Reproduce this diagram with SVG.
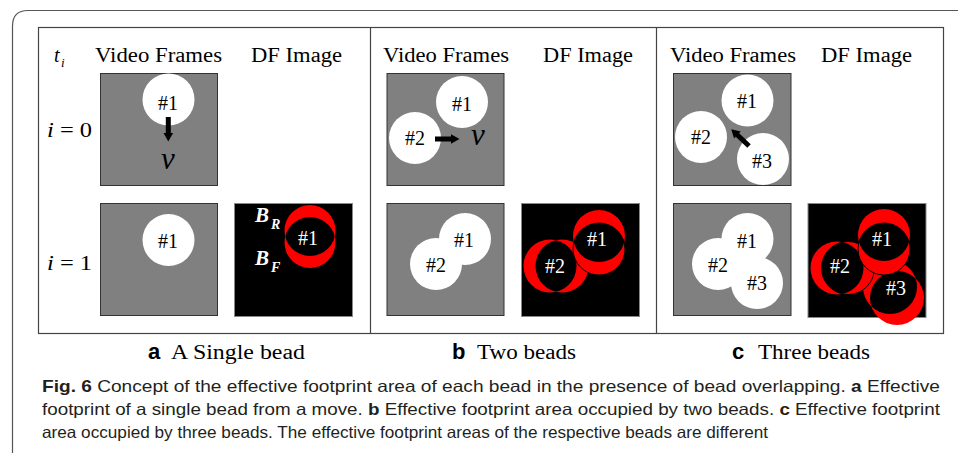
<svg xmlns="http://www.w3.org/2000/svg" width="958" height="453" viewBox="0 0 958 453">
<style>
.tm{font-family:"Liberation Serif","Times New Roman",serif;fill:#000;}
.hd{font-size:20px;}
.lb{font-size:20px;text-anchor:middle;}
.wl{fill:#fff;}
.it{font-style:italic;}
.sf{font-family:"Liberation Sans",Arial,sans-serif;}
.cap{font-size:16.5px;fill:#231f20;}
.gray{fill:#808080;stroke:#333;stroke-width:1;}
.blk{fill:#000;stroke:#888;stroke-width:1;}
.bead{fill:#fff;}
.red{fill:#ff0000;}
.lens{fill:#000;}
.out{fill:none;stroke:#000;stroke-width:1;}
.frame{fill:none;stroke:#555;stroke-width:1.2;}
</style>
<defs>
  <g id="arrow"><rect x="0" y="-2.5" width="17" height="5" fill="#000"/><polygon points="16,-4.8 24.5,0 16,4.8" fill="#000"/></g>
  <clipPath id="cA1"><circle cx="310" cy="230.5" r="25.5"/></clipPath>
  <clipPath id="cB1"><circle cx="599" cy="236" r="26"/></clipPath>
  <clipPath id="cB2"><circle cx="550" cy="266" r="26.5"/></clipPath>
  <clipPath id="cC1"><circle cx="884" cy="235" r="26"/></clipPath>
  <clipPath id="cC2"><circle cx="837" cy="268" r="26.5"/></clipPath>
  <clipPath id="cC3"><circle cx="890" cy="287" r="27"/></clipPath>
</defs>

<!-- outer card frame -->
<path class="frame" d="M12.5 453 V26 Q12.5 10.5 28 10.5 H958"/>

<!-- figure box -->
<g id="figure-box" fill="none" stroke="#444" stroke-width="1.2">
  <rect x="38.5" y="27.5" width="905" height="306"/>
  <line x1="370.5" y1="27.5" x2="370.5" y2="333.5"/>
  <line x1="656.5" y1="27.5" x2="656.5" y2="333.5"/>
</g>

<!-- row / column labels -->
<g id="labels">
  <text class="tm hd it" x="54" y="62">t</text>
  <text class="tm it" x="61" y="67" font-size="13">i</text>
  <text class="tm hd" x="95" y="62" textLength="127" lengthAdjust="spacingAndGlyphs">Video Frames</text>
  <text class="tm hd" x="251" y="62" textLength="91" lengthAdjust="spacingAndGlyphs">DF Image</text>
  <text class="tm hd" x="383" y="62" textLength="126" lengthAdjust="spacingAndGlyphs">Video Frames</text>
  <text class="tm hd" x="543" y="62" textLength="90" lengthAdjust="spacingAndGlyphs">DF Image</text>
  <text class="tm hd" x="670" y="62" textLength="126" lengthAdjust="spacingAndGlyphs">Video Frames</text>
  <text class="tm hd" x="821" y="62" textLength="91" lengthAdjust="spacingAndGlyphs">DF Image</text>
  <text class="tm hd" x="47" y="137" textLength="45" lengthAdjust="spacingAndGlyphs"><tspan class="it">i</tspan> = 0</text>
  <text class="tm hd" x="47" y="270" textLength="45" lengthAdjust="spacingAndGlyphs"><tspan class="it">i</tspan> = 1</text>
</g>

<!-- panel a -->
<g id="a-frame0">
  <rect class="gray" x="100.5" y="73.5" width="117" height="112"/>
  <circle class="bead" cx="168.5" cy="99.5" r="26"/>
  <text class="tm lb" x="168" y="110">#1</text>
  <use href="#arrow" transform="translate(168.3,117) rotate(90)"/>
  <text class="tm it" x="168" y="169" font-size="31" text-anchor="middle">v</text>
</g>
<g id="a-frame1">
  <rect class="gray" x="100.5" y="203.5" width="117" height="112"/>
  <circle class="bead" cx="168.5" cy="240" r="26"/>
  <text class="tm lb" x="168" y="248">#1</text>
</g>
<g id="a-df">
  <rect class="blk" x="234.5" y="203.5" width="118" height="113"/>
  <circle class="red" cx="310" cy="230.5" r="25.5"/>
  <circle class="red" cx="310" cy="242.5" r="25.5"/>
  <circle class="lens" cx="310" cy="242.5" r="25.5" clip-path="url(#cA1)"/>
  <text class="tm lb wl" x="308" y="245">#1</text>
  <text class="tm wl" x="255" y="222" font-size="21" font-weight="bold" font-style="italic">B</text>
  <text class="tm wl" x="271" y="229" font-size="14" font-weight="bold" font-style="italic">R</text>
  <text class="tm wl" x="255" y="265" font-size="21" font-weight="bold" font-style="italic">B</text>
  <text class="tm wl" x="271" y="272" font-size="14" font-weight="bold" font-style="italic">F</text>
</g>

<!-- panel b -->
<g id="b-frame0">
  <rect class="gray" x="387" y="73.5" width="117" height="112"/>
  <circle class="bead" cx="462" cy="102" r="26"/>
  <circle class="bead" cx="415" cy="138" r="26"/>
  <text class="tm lb" x="462" y="111">#1</text>
  <text class="tm lb" x="415" y="145">#2</text>
  <use href="#arrow" transform="translate(435,139)"/>
  <text class="tm it" x="478" y="145" font-size="31" text-anchor="middle">v</text>
</g>
<g id="b-frame1">
  <rect class="gray" x="387" y="203.5" width="117" height="112"/>
  <circle class="bead" cx="465" cy="239" r="26"/>
  <circle class="bead" cx="436" cy="264" r="26"/>
  <text class="tm lb" x="464" y="247">#1</text>
  <text class="tm lb" x="436" y="272">#2</text>
</g>
<g id="b-df">
  <rect class="blk" x="521.5" y="203.5" width="118" height="113"/>
  <circle class="red" cx="550" cy="266" r="26.5"/>
  <circle class="red" cx="562" cy="266" r="26.5"/>
  <circle class="lens" cx="562" cy="266" r="26.5" clip-path="url(#cB2)"/>
  <circle class="red" cx="599" cy="236" r="26"/>
  <circle class="red" cx="599" cy="249" r="26"/>
  <circle class="lens" cx="599" cy="249" r="26" clip-path="url(#cB1)"/>
  <circle class="out" cx="599" cy="249" r="26"/>
  <text class="tm lb wl" x="597" y="246">#1</text>
  <text class="tm lb wl" x="555" y="273">#2</text>
</g>

<!-- panel c -->
<g id="c-frame0">
  <rect class="gray" x="673.5" y="73.5" width="117.5" height="112"/>
  <circle class="bead" cx="747.5" cy="100.5" r="26"/>
  <circle class="bead" cx="701" cy="137" r="26"/>
  <circle class="bead" cx="763" cy="159" r="26"/>
  <text class="tm lb" x="747" y="108">#1</text>
  <text class="tm lb" x="701" y="144">#2</text>
  <text class="tm lb" x="762" y="168">#3</text>
  <use href="#arrow" transform="translate(749,146) rotate(223.5)"/>
</g>
<g id="c-frame1">
  <rect class="gray" x="673.5" y="203.5" width="117.5" height="112"/>
  <circle class="bead" cx="747.5" cy="239" r="26"/>
  <circle class="bead" cx="718" cy="264" r="26"/>
  <circle class="bead" cx="757" cy="283" r="26"/>
  <text class="tm lb" x="747" y="248">#1</text>
  <text class="tm lb" x="718" y="272">#2</text>
  <text class="tm lb" x="757" y="290">#3</text>
</g>
<g id="c-df">
  <rect class="blk" x="808" y="203.5" width="118" height="114"/>
  <circle class="red" cx="890" cy="287" r="27"/>
  <circle class="red" cx="897" cy="298" r="27"/>
  <circle class="lens" cx="897" cy="298" r="27" clip-path="url(#cC3)"/>
  <circle class="red" cx="837" cy="268" r="26.5"/>
  <circle class="red" cx="848" cy="268" r="26.5"/>
  <circle class="lens" cx="848" cy="268" r="26.5" clip-path="url(#cC2)"/>
  <circle class="out" cx="848" cy="268" r="26.5"/>
  <circle class="red" cx="884" cy="235" r="26"/>
  <circle class="red" cx="884" cy="249" r="26"/>
  <circle class="lens" cx="884" cy="249" r="26" clip-path="url(#cC1)"/>
  <circle class="out" cx="884" cy="249" r="26"/>
  <text class="tm lb wl" x="882" y="246">#1</text>
  <text class="tm lb wl" x="840" y="273">#2</text>
  <text class="tm lb wl" x="896" y="295">#3</text>
</g>

<!-- sub-captions -->
<g id="subcaptions">
  <text class="sf" x="148" y="359" font-size="22" font-weight="bold">a</text>
  <text class="tm" x="171" y="359" font-size="20" textLength="134" lengthAdjust="spacingAndGlyphs">A Single bead</text>
  <text class="sf" x="452" y="359" font-size="22" font-weight="bold">b</text>
  <text class="tm" x="477" y="359" font-size="20" textLength="99" lengthAdjust="spacingAndGlyphs">Two beads</text>
  <text class="sf" x="732" y="359" font-size="22" font-weight="bold">c</text>
  <text class="tm" x="758" y="359" font-size="20" textLength="112" lengthAdjust="spacingAndGlyphs">Three beads</text>
</g>

<!-- figure caption -->
<g id="caption" class="sf cap">
  <text x="42" y="392" textLength="898" lengthAdjust="spacingAndGlyphs"><tspan font-weight="bold">Fig. 6</tspan>  Concept of the effective footprint area of each bead in the presence of bead overlapping. <tspan font-weight="bold">a</tspan> Effective</text>
  <text x="42" y="415" textLength="898" lengthAdjust="spacingAndGlyphs">footprint of a single bead from a move. <tspan font-weight="bold">b</tspan> Effective footprint area occupied by two beads. <tspan font-weight="bold">c</tspan> Effective footprint</text>
  <text x="42" y="438" textLength="726" lengthAdjust="spacingAndGlyphs">area occupied by three beads. The effective footprint areas of the respective beads are different</text>
</g>
</svg>
